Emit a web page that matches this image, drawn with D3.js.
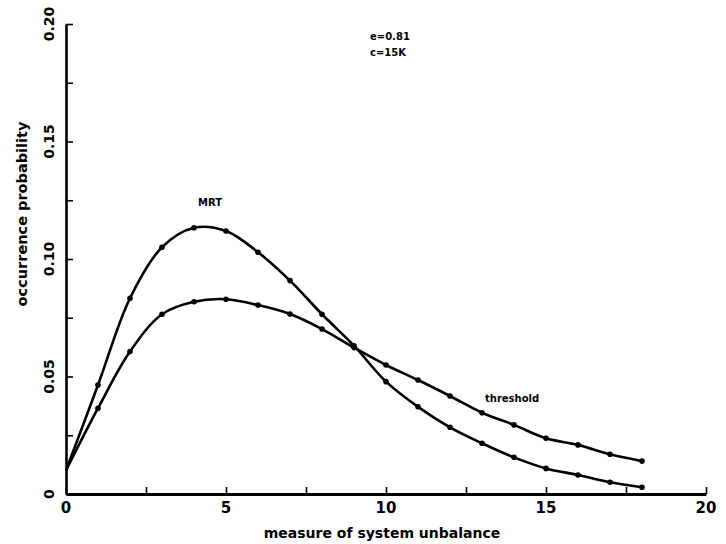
<!DOCTYPE html>
<html>
<head>
<meta charset="utf-8">
<script src="https://cdn.jsdelivr.net/npm/d3@7"></script>
<style>
html,body{margin:0;padding:0;background:#fff;}
svg{display:block;}
text{font-family:"DejaVu Sans",sans-serif;fill:#000;}
</style>
</head>
<body>
<script>
// ---- data ----
const xs = [0,1,2,3,4,5,6,7,8,9,10,11,12,13,14,15,16,17,18];
const mrt = [0.010,0.0464,0.0833,0.1050,0.1133,0.1119,0.1029,0.0908,0.0765,0.0631,0.0478,0.0371,0.0284,0.0216,0.0156,0.0109,0.0081,0.0050,0.0029];
const threshold = [0.010,0.0365,0.0606,0.0765,0.0818,0.0829,0.0804,0.0766,0.0702,0.0623,0.0549,0.0485,0.0417,0.0346,0.0294,0.0237,0.0209,0.0169,0.0140];
const xTickValues = [0,2.5,5,7.5,10,12.5,15,17.5,20];
const xTickLabels = ["0","5","10","15","20"];
const xLabelValues = [0,5,10,15,20];
const yTickValues = [0,0.025,0.05,0.075,0.1,0.125,0.15,0.175,0.2];
const yLabelValues = [0,0.05,0.1,0.15,0.2];
const yTickLabels = ["0","0.05","0.10","0.15","0.20"];
const seriesNames = ["MRT","threshold"];
const annotations = ["e=0.81","c=15K"];
const xTitle = "measure of system unbalance";
const yTitle = "occurrence probability";

const W = 726, H = 544;
const svg = d3.select("body").append("svg").attr("width", W).attr("height", H);

const x = d3.scaleLinear().domain([0,20]).range([66,706]);
const y = d3.scaleLinear().domain([0,0.2]).range([494,24]);

// axes
const gx = svg.append("g").attr("transform", `translate(0,${y(0)})`)
  .call(d3.axisBottom(x).tickValues(xTickValues).tickSize(-7).tickSizeOuter(0).tickFormat(""));
gx.select(".domain").attr("stroke","#000").attr("stroke-width",3);
gx.selectAll(".tick line").attr("stroke","#000").attr("stroke-width",1.6);

const gy = svg.append("g").attr("transform", `translate(${x(0)},0)`)
  .call(d3.axisLeft(y).tickValues(yTickValues).tickSize(-7).tickSizeOuter(0).tickFormat(""));
gy.select(".domain").attr("stroke","#000").attr("stroke-width",2.6);
gy.selectAll(".tick line").attr("stroke","#000").attr("stroke-width",1.6);

// x tick labels
svg.append("g").selectAll("text").data(xLabelValues).join("text")
  .attr("x", d => x(d)).attr("y", 513)
  .attr("text-anchor","middle").attr("font-size",15).attr("font-weight","bold")
  .text((d,i) => xTickLabels[i]);

// y tick labels (rotated)
svg.append("g").selectAll("text").data(yLabelValues).join("text")
  .attr("transform", d => `translate(54,${y(d)}) rotate(-90)`)
  .attr("text-anchor","middle").attr("font-size",14).attr("font-weight","bold")
  .text((d,i) => yTickLabels[i]);

// titles
svg.append("text").attr("x", 382).attr("y", 538).attr("text-anchor","middle")
  .attr("font-size",14).attr("font-weight","bold").text(xTitle);
svg.append("text").attr("transform","translate(27,214) rotate(-90)").attr("text-anchor","middle")
  .attr("font-size",14.5).attr("font-weight","bold").text(yTitle);

// lines
const line = d3.line().x(d => x(d[0])).y(d => y(d[1])).curve(d3.curveCatmullRom.alpha(0.5));
[mrt, threshold].forEach(vals => {
  const pts = xs.map((v,i) => [v, vals[i]]);
  svg.append("path").datum(pts).attr("d", line)
    .attr("fill","none").attr("stroke","#000").attr("stroke-width",2.6);
  svg.append("g").selectAll("circle").data(pts.slice(1)).join("circle")
    .attr("cx", d => x(d[0])).attr("cy", d => y(d[1])).attr("r", 2.8).attr("fill","#000");
});

// labels
svg.append("text").attr("x",198).attr("y",206).attr("font-size",10).attr("font-weight","bold").text(seriesNames[0]);
svg.append("text").attr("x",485).attr("y",402).attr("font-size",10).attr("font-weight","bold").text(seriesNames[1]);
svg.append("text").attr("x",370).attr("y",40).attr("font-size",10).attr("font-weight","bold").text(annotations[0]);
svg.append("text").attr("x",370).attr("y",56).attr("font-size",10).attr("font-weight","bold").text(annotations[1]);
</script>
</body>
</html>
